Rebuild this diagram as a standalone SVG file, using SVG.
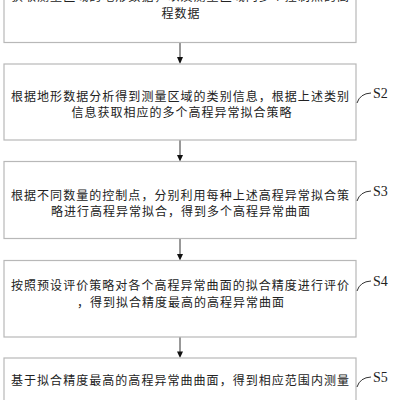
<svg xmlns="http://www.w3.org/2000/svg" width="400" height="400" viewBox="0 0 400 400">
<defs>
<style>
.box{fill:#fff;stroke:#b8b8b8;stroke-width:1.2}
.t{font-family:"Noto Sans CJK SC","Noto Sans",sans-serif;font-size:12px;fill:#222;letter-spacing:1px;dominant-baseline:central}
.c{text-anchor:middle}
.lbl{font-family:"Liberation Serif",serif;font-size:14px;fill:#222;dominant-baseline:central}
.lead{fill:none;stroke:#333;stroke-width:1}
.ln{stroke:#333;stroke-width:1}
.ah{fill:#111}
</style>
</defs>
<rect width="400" height="400" fill="#fff"/>
<g id="connectors">
<line class="ln" x1="180" y1="43" x2="180" y2="58"/>
<path class="ah" d="M177,57 L183,57 L180,64 Z"/>
<line class="ln" x1="180" y1="140" x2="180" y2="156"/>
<path class="ah" d="M177,155 L183,155 L180,161.5 Z"/>
<line class="ln" x1="180" y1="239" x2="180" y2="255"/>
<path class="ah" d="M177,254 L183,254 L180,260.5 Z"/>
<line class="ln" x1="180" y1="337" x2="180" y2="352"/>
<path class="ah" d="M177,351.5 L183,351.5 L180,358 Z"/>
</g>
<g id="s1">
<rect class="box" x="4" y="-35" width="352" height="77.5"/>
<text class="t" x="11" y="-5" textLength="339" lengthAdjust="spacing">获取测量区域的地形数据，以及测量区域内多个控制点的高</text>
<text class="t c" x="181" y="12.5">程数据</text>
</g>
<g id="s2">
<rect class="box" x="4" y="64" width="352" height="76"/>
<text class="t" x="11" y="95" textLength="339" lengthAdjust="spacing">根据地形数据分析得到测量区域的类别信息，根据上述类别</text>
<text class="t c" x="182" y="111.5">信息获取相应的多个高程异常拟合策略</text>
<path class="lead" d="M357,103 Q360,93.5 371,93"/>
<text class="lbl" x="373" y="93">S2</text>
</g>
<g id="s3">
<rect class="box" x="4" y="161.5" width="352" height="77"/>
<text class="t" x="11" y="194" textLength="339" lengthAdjust="spacing">根据不同数量的控制点，分别利用每种上述高程异常拟合策</text>
<text class="t c" x="181" y="210.5">略进行高程异常拟合，得到多个高程异常曲面</text>
<path class="lead" d="M357,201 Q360,191.5 371,191"/>
<text class="lbl" x="373" y="191">S3</text>
</g>
<g id="s4">
<rect class="box" x="4" y="260.5" width="352" height="76.5"/>
<text class="t" x="11" y="284" textLength="339" lengthAdjust="spacing">按照预设评价策略对各个高程异常曲面的拟合精度进行评价</text>
<text class="t c" x="181" y="301">，得到拟合精度最高的高程异常曲面</text>
<path class="lead" d="M357,291 Q360,281.5 371,281"/>
<text class="lbl" x="373" y="281">S4</text>
</g>
<g id="s5">
<rect class="box" x="4" y="358" width="352" height="77"/>
<text class="t" x="11" y="379" textLength="339" lengthAdjust="spacing">基于拟合精度最高的高程异常曲曲面，得到相应范围内测量</text>
<path class="lead" d="M357,387 Q360,377.5 371,377"/>
<text class="lbl" x="373" y="377">S5</text>
</g>
</svg>
